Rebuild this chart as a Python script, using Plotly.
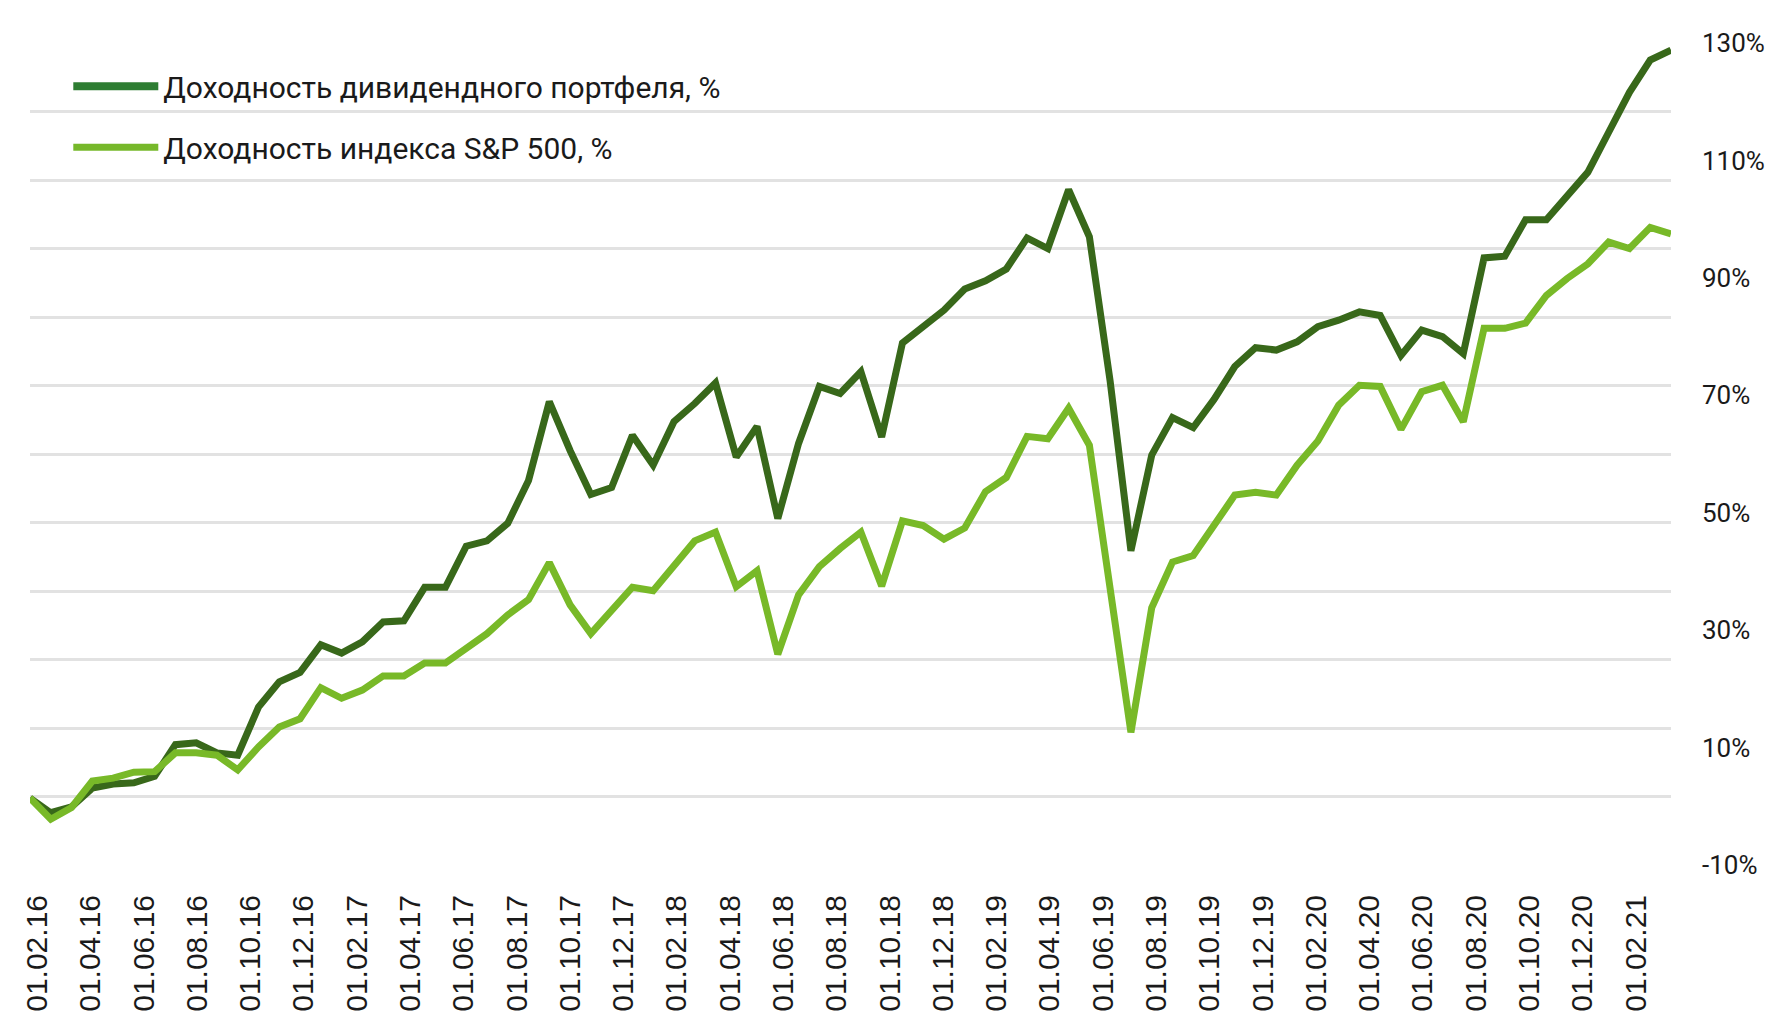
import plotly.graph_objects as go

# ---------------- data ----------------
date_labels = [
    "01.02.16", "01.04.16", "01.06.16", "01.08.16", "01.10.16", "01.12.16",
    "01.02.17", "01.04.17", "01.06.17", "01.08.17", "01.10.17", "01.12.17",
    "01.02.18", "01.04.18", "01.06.18", "01.08.18", "01.10.18", "01.12.18",
    "01.02.19", "01.04.19", "01.06.19", "01.08.19", "01.10.19", "01.12.19",
    "01.02.20", "01.04.20", "01.06.20", "01.08.20", "01.10.20", "01.12.20",
    "01.02.21",
]

portfolio = [
    1.4, -1.1, -0.1, 3.1, 3.8, 4.0, 5.1, 10.5, 10.8, 9.1,
    8.7, 16.9, 21.2, 22.8, 27.5, 26.1, 28.0, 31.4, 31.6, 37.3,
    37.3, 44.3, 45.2, 48.2, 55.5, 68.9, 60.6, 53.1, 54.3, 63.2,
    58.1, 65.5, 68.6, 72.1, 59.5, 64.7, 49.0, 61.8, 71.5, 70.3,
    74.0, 62.9, 78.9, 81.8, 84.5, 88.1, 89.5, 91.5, 96.8, 95.0,
    105.0, 97.0, 72.4, 43.5, 59.8, 66.2, 64.5, 69.3, 74.9, 78.1,
    77.7, 79.1, 81.7, 82.8, 84.2, 83.6, 76.8, 81.1, 80.0, 77.1,
    93.4, 93.7, 99.9, 99.9, 104.0, 108.0, 114.8, 121.6, 127.1, 128.8,
]

sp500 = [
    1.4, -2.2, -0.2, 4.3, 4.8, 5.8, 5.9, 9.1, 9.1, 8.7,
    6.2, 10.1, 13.5, 14.9, 20.2, 18.4, 19.8, 22.2, 22.2, 24.4,
    24.4, 27.0, 29.4, 32.6, 35.2, 41.5, 34.3, 29.4, 33.4, 37.3,
    36.7, 41.1, 45.2, 46.7, 37.4, 40.1, 25.9, 36.0, 40.8, 43.9,
    46.7, 37.5, 48.6, 47.8, 45.5, 47.4, 53.6, 56.0, 63.0, 62.6,
    67.8, 61.5, 36.8, 12.6, 33.8, 41.6, 42.7, 47.7, 53.0, 53.5,
    53.0, 58.1, 62.2, 68.3, 71.7, 71.5, 64.2, 70.6, 71.7, 65.5,
    81.4, 81.4, 82.3, 87.0, 89.9, 92.4, 96.1, 95.0, 98.6, 97.5,
]

y_tick_values = [-10, 10, 30, 50, 70, 90, 110, 130]
y_tick_labels = [f"{v}%" for v in y_tick_values]

series_names = [
    "Доходность дивидендного портфеля, %",
    "Доходность индекса S&P 500, %",
]

point_index = list(range(len(portfolio)))

# ---------------- style ----------------
W, H = 1768, 1017
DARK = "#38681a"
LIGHT = "#78b928"
DARK_LEGEND = "#2e7d32"
LIGHT_LEGEND = "#76b82a"
GRID = "#e2e2e2"
TEXT = "#1a1a1a"
NARROW = "Roboto, DejaVu Sans Condensed, sans-serif"
REGULAR = "Liberation Sans, Arial, Helvetica, sans-serif"

L, R, T, B = 30, 97, 42.5, 152
PW, PH = W - L - R, H - T - B

fig = go.Figure()

# invisible helper trace that carries the date-label axis and the grid axis
fig.add_trace(go.Scatter(
    x=date_labels, y=[None] * len(date_labels), xaxis="x2", yaxis="y2",
    mode="lines", showlegend=False, hoverinfo="skip",
))

fig.add_trace(go.Scatter(
    x=point_index, y=portfolio, mode="lines", name=series_names[0],
    line=dict(color=DARK, width=7), showlegend=False, cliponaxis=False,
))
fig.add_trace(go.Scatter(
    x=point_index, y=sp500, mode="lines", name=series_names[1],
    line=dict(color=LIGHT, width=7), showlegend=False, cliponaxis=False,
))

# legend entries
fig.add_trace(go.Scatter(
    x=[None], y=[None], mode="lines", name=series_names[0],
    line=dict(color=DARK_LEGEND, width=8), legend="legend",
))
fig.add_trace(go.Scatter(
    x=[None], y=[None], mode="lines", name=series_names[1],
    line=dict(color=LIGHT_LEGEND, width=7), legend="legend2",
))

legend_font = dict(family=NARROW, size=30, color=TEXT)

fig.update_layout(
    width=W, height=H,
    template="none",
    paper_bgcolor="white", plot_bgcolor="white",
    margin=dict(l=L, r=R, t=T, b=B, pad=0, autoexpand=False),
    font=dict(family=NARROW, color=TEXT),
    showlegend=True,
    xaxis=dict(
        range=[0, len(portfolio) - 1], showgrid=False, zeroline=False,
        showticklabels=False, ticks="", showline=False, automargin=False,
    ),
    xaxis2=dict(
        overlaying="x", side="bottom", type="category",
        range=[-0.135, 30.66], showgrid=False, zeroline=False,
        tickmode="array", tickvals=date_labels, ticktext=date_labels,
        tickangle=-90, ticks="", showline=False, automargin=False,
        tickfont=dict(family=REGULAR, size=30, color=TEXT),
        ticklabelstandoff=23,
    ),
    yaxis=dict(
        range=[-10, 130], side="right", tickmode="array",
        tickvals=y_tick_values, ticktext=y_tick_labels,
        showgrid=False, zeroline=False, ticks="", showline=False,
        automargin=False,
        tickfont=dict(family=NARROW, size=26, color=TEXT),
        ticklabelstandoff=30,
    ),
    yaxis2=dict(
        overlaying="y", range=[0, 12], tickmode="linear", tick0=0, dtick=1,
        showgrid=True, gridcolor=GRID, gridwidth=3, zeroline=False,
        showticklabels=False, ticks="", showline=False, automargin=False,
    ),
    legend=dict(
        x=(68.3 - L) / PW, y=(H - B - 59.7) / PH, xanchor="left", yanchor="top",
        bgcolor="rgba(0,0,0,0)", borderwidth=0, itemwidth=85,
        font=legend_font,
    ),
    legend2=dict(
        x=(68.3 - L) / PW, y=(H - B - 120.7) / PH, xanchor="left", yanchor="top",
        bgcolor="rgba(0,0,0,0)", borderwidth=0, itemwidth=85,
        font=legend_font,
    ),
)

fig.write_html(
    "out.html",
    config={"displayModeBar": False},
    post_script="document.body.style.margin='0px';",
)
